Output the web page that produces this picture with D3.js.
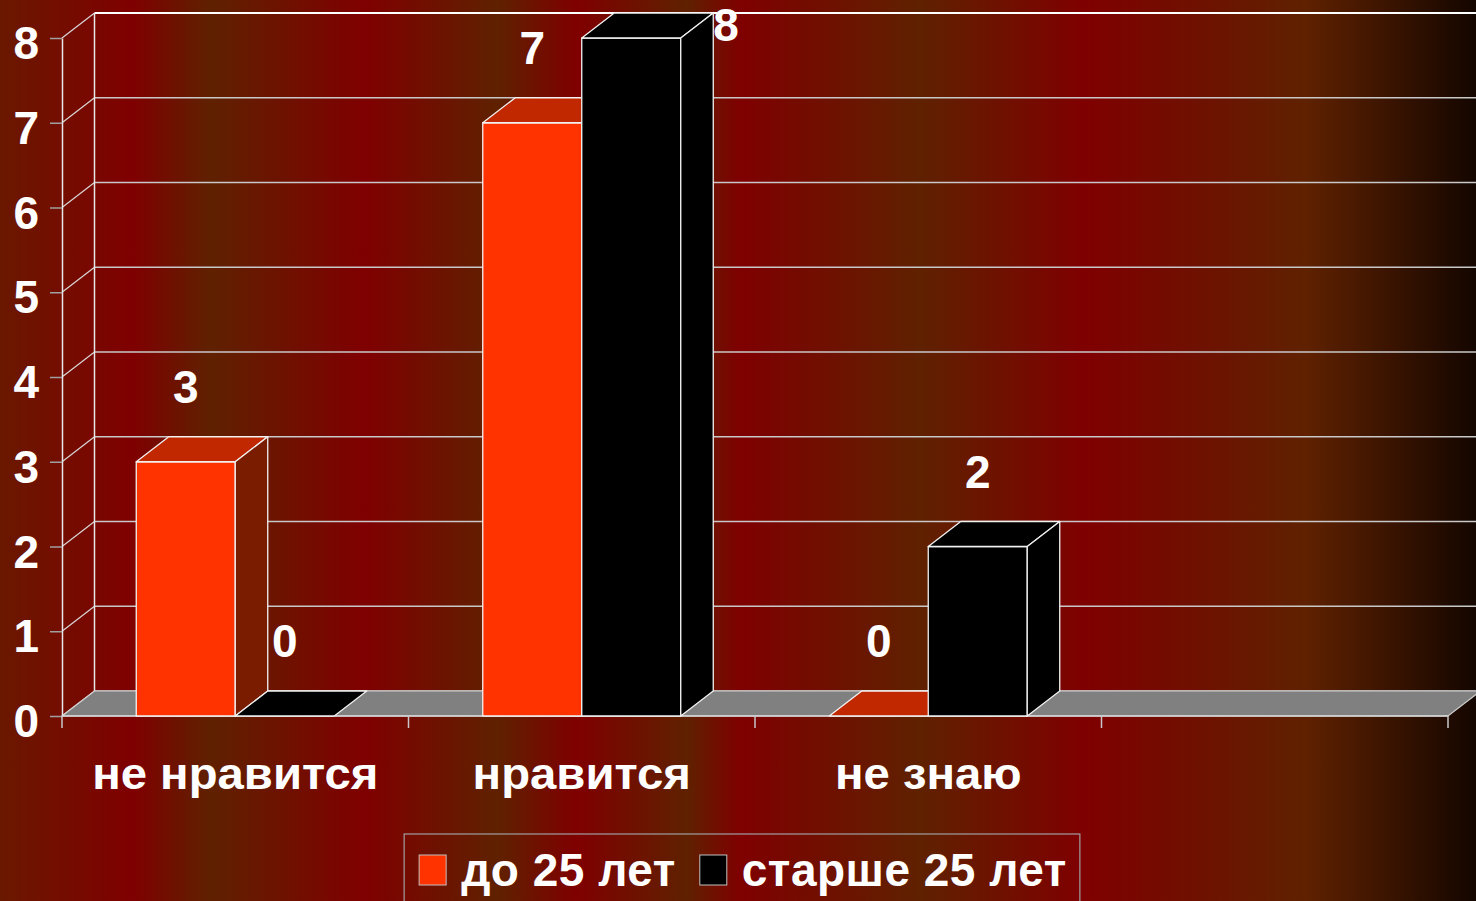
<!DOCTYPE html>
<html>
<head>
<meta charset="utf-8">
<script src="https://cdn.jsdelivr.net/npm/d3@7"></script>
<style>
  html, body { margin: 0; padding: 0; background: #600000; overflow: hidden; }
  svg { display: block; }
  text { font-family: "Liberation Sans", Arial, sans-serif; font-weight: bold; fill: #fff; }
</style>
</head>
<body>
<div id="chart"></div>
<script>
// data
var categories = ["не нравится", "нравится", "не знаю", ""];
var seriesNames = ["до 25 лет", "старше 25 лет"];
var under25 = [3, 7, 0];
var over25 = [0, 8, 2];
var yTicks = [0, 1, 2, 3, 4, 5, 6, 7, 8];

var width = 1476, height = 901;
var depth = {x: 32.5, y: -25};
var fontSize = 46;

var svg = d3.select("#chart").append("svg")
  .attr("width", width)
  .attr("height", height);

// background stripes
var bgStops = [
  [0, "#6a1800"], [133, "#7f0000"], [210, "#5f2100"], [365, "#7f0000"],
  [497, "#5f2100"], [577, "#7f0000"], [687, "#5f2100"], [740, "#7f0000"],
  [920, "#5f2100"], [1085, "#7f0000"], [1306, "#5f2100"], [1476, "#140600"]
];
var defs = svg.append("defs");
var grad = defs.append("linearGradient").attr("id", "bg")
  .attr("x1", 0).attr("x2", 1).attr("y1", 0).attr("y2", 0);
grad.selectAll("stop").data(bgStops).enter().append("stop")
  .attr("offset", d => d[0] / width)
  .attr("stop-color", d => d[1]);
svg.append("rect").attr("width", width).attr("height", height).attr("fill", "url(#bg)");

// scales
var y = d3.scaleLinear().domain([0, 8]).range([716, 38]);
var x0 = d3.scaleBand().domain(categories).range([62, 1448]).padding(0);
var x1 = d3.scaleBand().domain(seriesNames).range([0, x0.bandwidth()]).paddingInner(0).paddingOuter(0.75);
var color = d3.scaleOrdinal().domain(seriesNames).range(["#ff3300", "#000000"]);
var topColor = d3.scaleOrdinal().domain(seriesNames).range(["#c22800", "#000000"]);
var sideColor = d3.scaleOrdinal().domain(seriesNames).range(["#7a1c00", "#000000"]);

var left = x0.range()[0], right = x0.range()[1];
var base = y(0);

// back wall gridlines
svg.append("g").selectAll("line").data(yTicks).enter().append("line")
  .attr("x1", left + depth.x).attr("x2", width + 10)
  .attr("y1", d => y(d) + depth.y).attr("y2", d => y(d) + depth.y)
  .attr("stroke", d => d == 8 ? "#ffffff" : "#c8c8c8")
  .attr("stroke-width", d => d == 8 ? 2 : 1.5);

// side wall gridlines
svg.append("g").selectAll("line").data(yTicks).enter().append("line")
  .attr("x1", left).attr("x2", left + depth.x)
  .attr("y1", d => y(d)).attr("y2", d => y(d) + depth.y)
  .attr("stroke", "#d8d8d8").attr("stroke-width", 1.2);

// back-left edge
svg.append("line")
  .attr("x1", left + depth.x).attr("x2", left + depth.x)
  .attr("y1", y(8) + depth.y).attr("y2", base + depth.y)
  .attr("stroke", "#e8e8e8").attr("stroke-width", 1.5);

// floor
svg.append("polygon")
  .attr("points", [[left, base], [right, base], [right + depth.x, base + depth.y], [left + depth.x, base + depth.y]].join(" "))
  .attr("fill", "#808080")
  .attr("stroke", "#d0d0d0").attr("stroke-width", 1.2);

// y axis
var yAxis = svg.append("g")
  .attr("transform", "translate(" + left + ",0)")
  .call(d3.axisLeft(y).tickValues(yTicks).tickSize(12).tickSizeOuter(0).tickPadding(11));
yAxis.select(".domain").attr("stroke", "#e8e8e8").attr("stroke-width", 1.5);
yAxis.selectAll(".tick line").attr("stroke", "#a0a0a0").attr("stroke-width", 1.5);
yAxis.selectAll(".tick text")
  .attr("fill", "#fff").attr("font-size", fontSize).attr("dy", "0.45em")
  .style("font-family", "'Liberation Sans', Arial, sans-serif").style("font-weight", "bold");

// x axis line and category ticks
svg.append("line")
  .attr("x1", left).attr("x2", right).attr("y1", base).attr("y2", base)
  .attr("stroke", "#d8d8d8").attr("stroke-width", 1.5);
var catEdges = categories.map(c => x0(c)).concat([right]);
svg.append("g").selectAll("line").data(catEdges).enter().append("line")
  .attr("x1", d => d).attr("x2", d => d)
  .attr("y1", base).attr("y2", base + 12)
  .attr("stroke", "#c8c8c8").attr("stroke-width", 1.5);
svg.append("g").selectAll("text").data(categories).enter().append("text")
  .attr("transform", d => "translate(" + (x0(d) + x0.bandwidth() / 2) + ",789) scale(1.075,1)")
  .attr("text-anchor", "middle")
  .attr("font-size", 44)
  .text(d => d);

// bars
var bars = [];
categories.forEach(function(c, i) {
  if (i < under25.length) {
    bars.push({cat: c, series: seriesNames[0], value: under25[i]});
    bars.push({cat: c, series: seriesNames[1], value: over25[i]});
  }
});

var barG = svg.append("g");
bars.forEach(function(d) {
  var bx = x0(d.cat) + x1(d.series);
  var bw = x1.bandwidth();
  var yt = y(d.value);
  var g = barG.append("g");
  if (d.value > 0) {
    g.append("rect")
      .attr("x", bx).attr("y", yt).attr("width", bw).attr("height", base - yt)
      .attr("fill", color(d.series));
  }
  g.append("polygon")
    .attr("points", [[bx, yt], [bx + bw, yt], [bx + bw + depth.x, yt + depth.y], [bx + depth.x, yt + depth.y]].join(" "))
    .attr("fill", topColor(d.series));
  if (d.value > 0) {
    g.append("polygon")
      .attr("points", [[bx + bw, yt], [bx + bw + depth.x, yt + depth.y], [bx + bw + depth.x, base + depth.y], [bx + bw, base]].join(" "))
      .attr("fill", sideColor(d.series));
  }
  g.selectAll("rect, polygon")
    .attr("stroke", "#f2f2f2").attr("stroke-width", 1.3).attr("stroke-linejoin", "round");
});

// value labels
bars.forEach(function(d) {
  var bx = x0(d.cat) + x1(d.series);
  var bw = x1.bandwidth();
  var yt = y(d.value);
  var ly = yt - 59;
  var t = svg.append("text").attr("font-size", fontSize).text(d.value);
  if (ly - 33 < 0) {
    t.attr("x", bx + bw + depth.x).attr("y", yt + depth.y + 28).attr("text-anchor", "start");
  } else {
    t.attr("x", bx + bw / 2).attr("y", ly).attr("text-anchor", "middle");
  }
});

// legend
var legend = svg.append("g");
var items = legend.selectAll("g").data(seriesNames).enter().append("g");
items.append("rect")
  .attr("width", 27).attr("height", 30).attr("y", -31)
  .attr("fill", d => color(d))
  .attr("stroke", "#c0c0c0").attr("stroke-width", 1);
items.append("text")
  .attr("x", 42).attr("y", 0)
  .attr("font-size", fontSize)
  .attr("letter-spacing", 0.5)
  .text(d => d);
var xpos = 0;
items.each(function() {
  var w = this.getBBox().width;
  d3.select(this).attr("transform", "translate(" + xpos + ",0)");
  xpos += w + 24;
});
var legW = xpos - 24 + 28;
var legX = 742 - legW / 2;
legend.insert("rect", ":first-child")
  .attr("x", -15).attr("y", -52).attr("width", legW).attr("height", 90)
  .attr("fill", "none").attr("stroke", "#a0a0a0").attr("stroke-width", 1.2);
legend.attr("transform", "translate(" + (legX + 15) + ",886)");
</script>
</body>
</html>
